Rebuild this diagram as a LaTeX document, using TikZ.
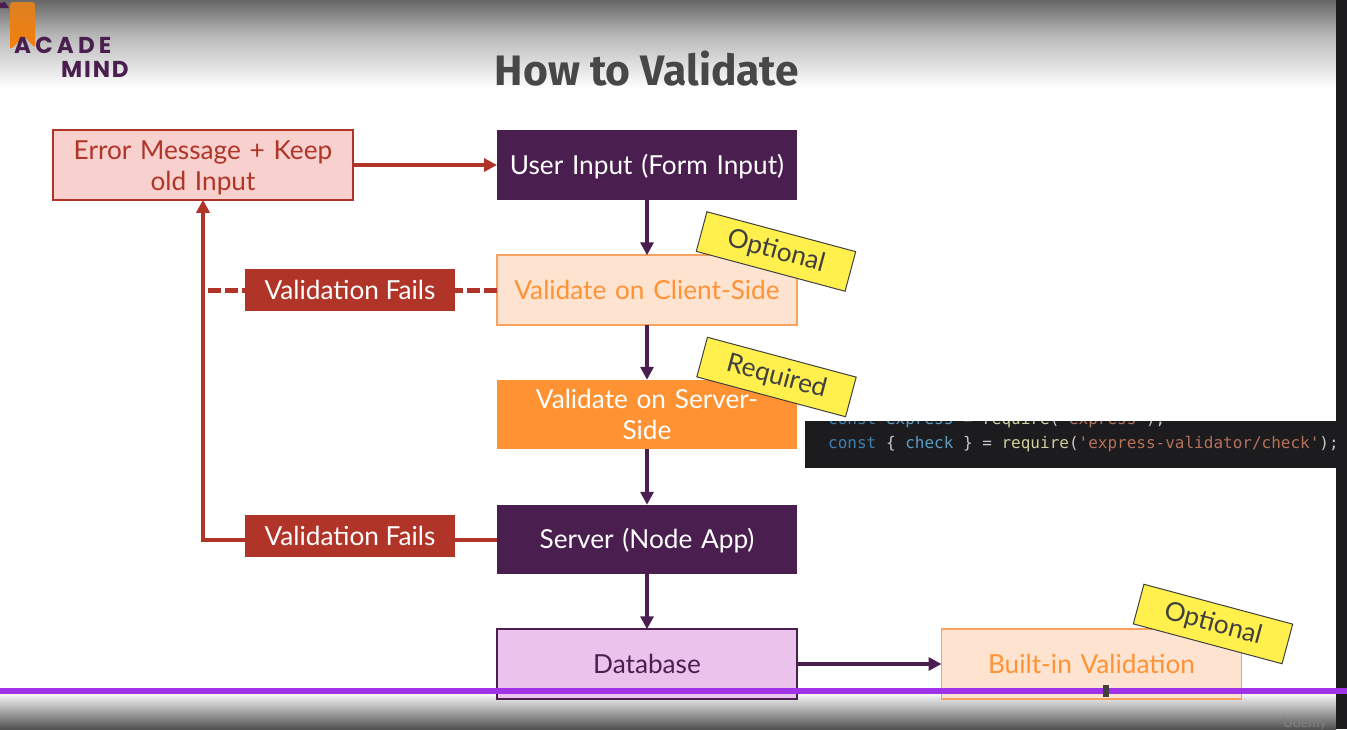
\documentclass[tikz,border=0pt]{standalone}
\usepackage{xcolor}
\usepackage{fontspec}
\usepackage{tikz}
\usetikzlibrary{arrows.meta}
\setmainfont{Lato}
\newfontfamily\titlefont{Fira Sans}
\newfontfamily\logofonta[LetterSpace=18]{Poppins}
\newfontfamily\logofontb[LetterSpace=8]{Poppins}
\newfontfamily\codefont{DejaVu Sans Mono}

\definecolor{plum}{HTML}{4A1E4F}
\definecolor{brick}{HTML}{B03428}
\definecolor{rosefill}{HTML}{F8D0CD}
\definecolor{tangerine}{HTML}{FF9233}
\definecolor{softedge}{HTML}{F7A25E}
\definecolor{peachfill}{HTML}{FFE3D1}
\definecolor{lilacfill}{HTML}{EBC2EB}
\definecolor{tagyellow}{HTML}{FFF04D}
\definecolor{scrubber}{HTML}{A033E8}
\definecolor{panel}{HTML}{1C1C1E}
\definecolor{codeblue}{HTML}{3F7FB0}
\definecolor{codecyan}{HTML}{5C9CC4}
\definecolor{codegray}{HTML}{C8C8C8}
\definecolor{codeyellow}{HTML}{CFCF9C}
\definecolor{codered}{HTML}{B5705A}

\tikzset{
  flowbox/.style={minimum width=300pt,minimum height=69.5pt,align=center,inner sep=0pt,outer sep=0pt,text width=284pt,font=\fontsize{26.2}{31}\selectfont,line width=1.6pt},
  darkbox/.style={flowbox,fill=plum,text=white},
  errorbox/.style={flowbox,fill=rosefill,draw=brick,text=brick},
  softbox/.style={flowbox,fill=peachfill,draw=softedge,text=tangerine},
  hardbox/.style={flowbox,fill=tangerine,text=white},
  storebox/.style={flowbox,fill=lilacfill,draw=plum,text=plum},
  failbox/.style={fill=brick,text=white,minimum width=210pt,minimum height=42pt,inner sep=0pt,outer sep=0pt,font=\fontsize{26.2}{31}\selectfont},
  tagbox/.style={fill=tagyellow,draw=black!75,line width=1pt,minimum width=154pt,minimum height=41pt,inner sep=0pt,rotate=-15,text=black!75,font=\fontsize{26.2}{31}\selectfont},
  flowline/.style={draw=plum,line width=4pt},
  flowarrow/.style={flowline,-{Triangle[length=13pt,width=13pt]}},
  failline/.style={draw=brick,line width=4pt},
  failarrow/.style={failline,-{Triangle[length=13pt,width=13pt]}},
  faildash/.style={failline,line width=5pt,dash pattern=on 13pt off 4pt},
  codetext/.style={anchor=base west,inner sep=0pt,font=\codefont\fontsize{16}{16}\selectfont}
}

\begin{document}
\begin{tikzpicture}[x=1pt,y=-1pt]
  \useasboundingbox (0,0) rectangle (1347,729);

  % page and video bands
  \fill[white] (0,0) rectangle (1347,729);
  \shade[top color=black!60,bottom color=black!28] (0,0) rectangle (1336,35);
  \shade[top color=black!28,bottom color=white] (0,35) rectangle (1336,88);
  \shade[top color=white,bottom color=black!68] (0,692) rectangle (1336,729);
  \fill[panel] (1336,0) rectangle (1347,729);

  % logo
  \shade[top color=orange!45!brown,bottom color=orange!85!brown,rounded corners=3pt]
    (10,2) -- (35,2) -- (35,48) -- (24,36) -- (10,50) -- cycle;
  \fill[plum] (0,8) -- (0,3) -- (5,2) -- (9,8) -- cycle;
  \node[anchor=base west,inner sep=0pt,text=plum,font=\logofonta\bfseries\fontsize{23}{23}\selectfont] (logoa) at (14,53) {ACADE};
  \node[anchor=base west,inner sep=0pt,text=plum,font=\logofontb\bfseries\fontsize{23}{23}\selectfont] (logob) at (61,77) {MIND};

  \node[text=black!72,inner sep=0pt,font=\titlefont\bfseries\fontsize{42.6}{42.6}\selectfont] (title) at (647,69) {How to Validate};

  % main column
  \node[darkbox,text depth=2pt] (userinput) at (647,165) {User Input (Form Input)};
  \node[softbox] (clientside) at (647,290) {Validate on Client-Side};
  \node[hardbox] (serverside) at (647,414.5) {Validate on Server-\\Side};
  \node[darkbox,text depth=2pt] (nodeapp) at (647,539.5) {Server (Node App)};
  \node[storebox] (database) at (647,664) {Database};
  \node[softbox] (builtin) at (1091.5,664) {Built-in Validation};
  \node[errorbox] (errormsg) at (203,165) {\rule{0pt}{25pt}Error Message + Keep\\old Input};

  \node[failbox] (failclient) at (350,290) {Validation Fails};
  \node[failbox] (failserver) at (350,536) {Validation Fails};
  \coordinate (dashend) at (208,290);

  \draw[flowarrow] (userinput) -- (clientside);
  \draw[flowarrow] (clientside) -- (serverside);
  \draw[flowarrow] (serverside) -- (nodeapp);
  \draw[flowarrow] (nodeapp) -- (database);
  \draw[flowarrow] (database) -- (builtin);
  \draw[failarrow] (errormsg) -- (userinput);
  \draw[faildash] (clientside.west) -- (failclient.east);
  \draw[faildash] (dashend) -- (failclient.west);
  \draw[failline] (nodeapp.west) -- (nodeapp.west -| failserver.east);
  \draw[failarrow] (nodeapp.west -| failserver.west) -| (errormsg.south);

  % tags
  \node[tagbox] (tagclient) at (776,251.5) {Optional};
  \node[tagbox] (tagserver) at (776.5,377) {Required};
  \node[tagbox] (tagbuilt) at (1213,624) {Optional};

  % code strip
  \fill[panel] (805,421) rectangle (1336,468);
  \begin{scope}
    \clip (805,421) rectangle (1336,468);
    \node[codetext,text=codeblue] (codeone) at (828,424.5) {const \textcolor{codecyan}{express} \textcolor{codegray}{=} \textcolor{codeyellow}{require}\textcolor{codegray}{(}\textcolor{codered}{'express'}\textcolor{codegray}{);}};
  \end{scope}
  \node[codetext,text=codeblue] (codetwo) at (828,448) {const \textcolor{codegray}{\{} \textcolor{codecyan}{check} \textcolor{codegray}{\}} \textcolor{codegray}{=} \textcolor{codeyellow}{require}\textcolor{codegray}{(}\textcolor{codered}{'express-validator/check'}\textcolor{codegray}{);}};

  % scrubber
  \fill[scrubber] (0,687.5) rectangle (1347,693.5);
  \fill[black!75] (1103,685) rectangle (1109,697);
  \node[anchor=base east,inner sep=0pt,text=black!50,font=\fontsize{14}{14}\selectfont] (udemy) at (1327,727) {Udemy};
\end{tikzpicture}
\end{document}
